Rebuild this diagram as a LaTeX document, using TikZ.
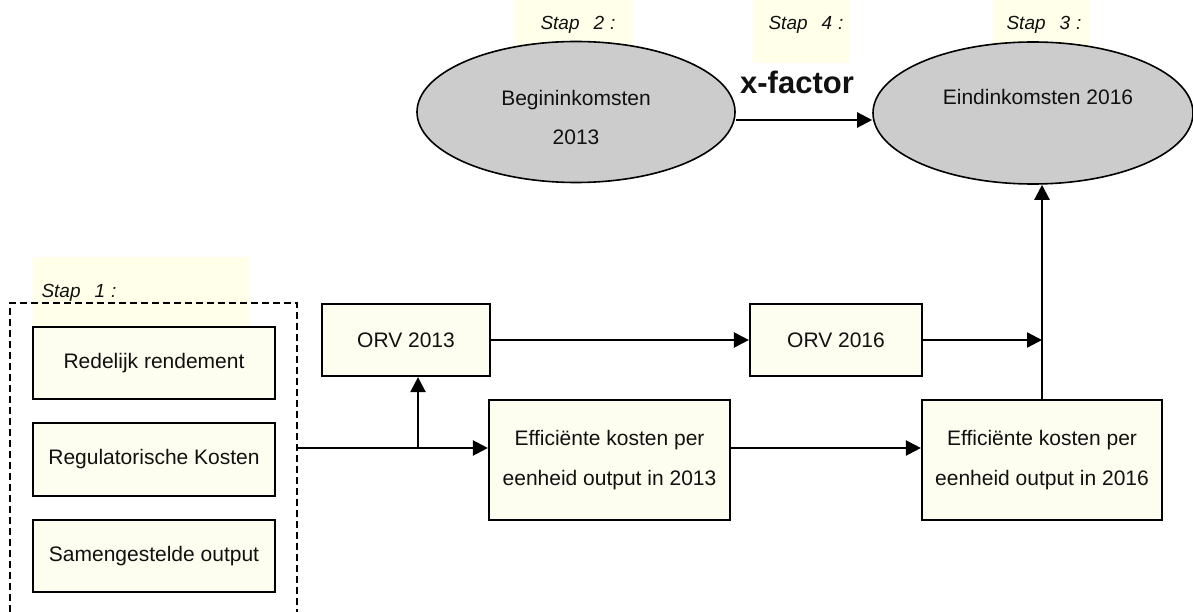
\documentclass[tikz,border=0pt]{standalone}
\usepackage{fontspec}
\setmainfont{Liberation Sans}
\usetikzlibrary{arrows.meta,shapes.geometric}
\definecolor{boxfill}{HTML}{FEFEF0}
\definecolor{hl}{HTML}{FFFFEA}
\definecolor{ellfill}{HTML}{CCCCCC}
\definecolor{ink}{HTML}{111111}
\begin{document}
\begin{tikzpicture}[x=1pt,y=-1pt,
  box/.style={draw=black, line width=2.2pt, fill=boxfill, inner sep=0pt,
    text=ink, font=\fontsize{21}{40}\selectfont, align=center},
  ell/.style={ellipse, draw=black, line width=1.6pt, fill=ellfill, inner sep=0pt},
  elltext/.style={text=ink, font=\fontsize{21}{39}\selectfont, align=center, inner sep=0pt},
  arr/.style={line width=2.3pt, -{Triangle[length=15pt,width=15pt]}},
  hlbox/.style={fill=hl},
  staplabel/.style={font=\fontsize{19}{21}\selectfont\itshape, inner sep=0pt, text=ink},
  frame/.style={line width=1.8pt, dash pattern=on 7pt off 4pt}
]
\useasboundingbox (0,0) rectangle (1193,612);
\fill[white] (0,0) rectangle (1193,612);

% highlights behind the step labels
\fill[hlbox] (33,257) rectangle (250,327);
\fill[hlbox] (515,0) rectangle (633,46);
\fill[hlbox] (753,0) rectangle (850,63);
\fill[hlbox] (993,0) rectangle (1090,46);

% step labels
\node[staplabel] (s1) at (79,293) {Stap\hspace{14pt}1\hspace{6pt}:};
\node[staplabel] (s2) at (578,25) {Stap\hspace{14pt}2\hspace{6pt}:};
\node[staplabel] (s4) at (806,25) {Stap\hspace{14pt}4\hspace{6pt}:};
\node[staplabel] (s3) at (1044,25) {Stap\hspace{14pt}3\hspace{6pt}:};

% dashed frame for step 1
\draw[frame] (10,612) -- (10,303) -- (297,303) -- (297,612);

% step 1 boxes
\node[box, minimum width=242pt, minimum height=72pt] (r1) at (154,363) {\raisebox{-3pt}{Redelijk rendement}};
\node[box, minimum width=242pt, minimum height=73pt] (r2) at (154,459.5) {\raisebox{-3pt}{Regulatorische Kosten}};
\node[box, minimum width=242pt, minimum height=72pt] (r3) at (154,556) {\raisebox{-3pt}{Samengestelde output}};

% middle boxes
\node[box, minimum width=168pt, minimum height=72pt] (orv13) at (406,340) {ORV 2013};
\node[box, minimum width=172pt, minimum height=72pt] (orv16) at (836,340) {ORV 2016};
\node[box, minimum width=241pt, minimum height=120pt] (eff13) at (609.5,460) {Effici\"ente kosten per\\eenheid output in 2013};
\node[box, minimum width=240pt, minimum height=120pt] (eff16) at (1042,460) {Effici\"ente kosten per\\eenheid output in 2016};

% ellipses
\node[ell, minimum width=318pt, minimum height=141pt,
  label={[elltext, yshift=-5pt]center:Begininkomsten\\2013}] (begin) at (576,112) {};
\node[ell, minimum width=320pt, minimum height=142pt,
  label={[elltext, yshift=16pt, xshift=5pt]center:Eindinkomsten 2016}] (eind) at (1033,113) {};

\node[font=\fontsize{31}{34}\selectfont\bfseries, text=ink, inner sep=0pt] (xf) at (797,82) {x-factor};

% connectors
\coordinate (src) at (297,448);
\coordinate (j) at (418,448);
\coordinate (m) at (1042,340);
\draw[arr] (src) -- (src -| eff13.west);
\draw[arr] (j) -- (j |- orv13.south);
\draw[arr] (orv13.east) -- (orv16.west);
\draw[arr] (eff13.east |- src) -- (eff16.west |- src);
\draw[arr] (orv16.east) -- (m);
\draw[arr] (eff16.north) -- (eff16.north |- eind.south);
\draw[arr] ([yshift=-8pt]begin.east) -- ([yshift=-7pt]eind.west);
\end{tikzpicture}
\end{document}
